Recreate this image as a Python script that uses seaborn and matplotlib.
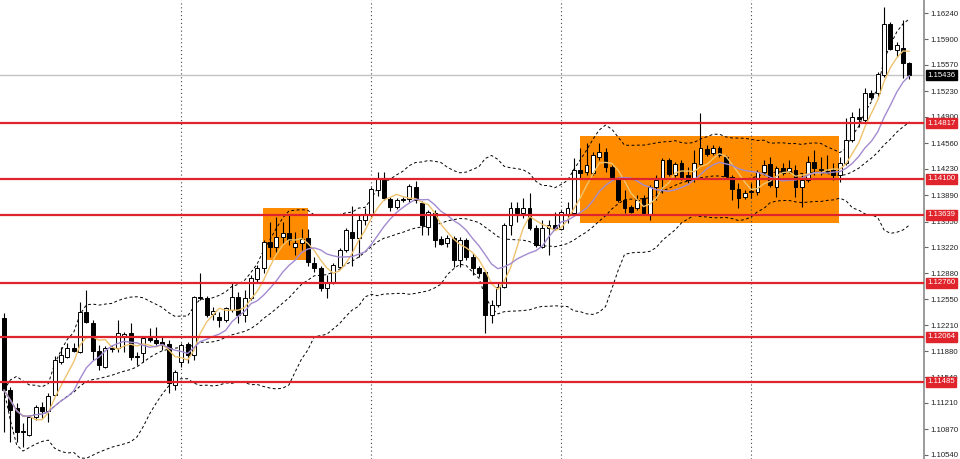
import numpy as np
import pandas as pd
import matplotlib
matplotlib.use("Agg")
import matplotlib.pyplot as plt
import matplotlib.transforms as mtransforms
import seaborn as sns

# ---------- PRICE DATA ----------
opens = [1.12306, 1.11377, 1.11145, 1.10848, 1.10797, 1.11029, 1.11158, 1.11106, 1.11313, 1.11738,
         1.11803, 1.11919, 1.11867, 1.12383, 1.12241, 1.11880, 1.11674, 1.11919, 1.11919, 1.12074,
         1.12112, 1.11816, 1.11854, 1.12048, 1.12022, 1.11996, 1.11970, 1.11442, 1.11738, 1.11970,
         1.11829, 1.12577, 1.12564, 1.12357, 1.12319, 1.12280, 1.12409, 1.12577, 1.12345, 1.12564,
         1.12809, 1.12951, 1.13286, 1.13222, 1.13351, 1.13402, 1.13222, 1.13273, 1.13338, 1.13015,
         1.12951, 1.12693, 1.12770, 1.12964, 1.13183, 1.13415, 1.13338, 1.13570, 1.13635, 1.13957,
         1.14086, 1.13841, 1.13738, 1.13841, 1.13841, 1.13996, 1.13789, 1.13480, 1.13660, 1.13325,
         1.13273, 1.13338, 1.13054, 1.13312, 1.13093, 1.12951, 1.12899, 1.12345, 1.12474, 1.12706,
         1.13506, 1.13725, 1.13660, 1.13725, 1.13467, 1.13222, 1.13467, 1.13506, 1.13454, 1.13635,
         1.13660, 1.14215, 1.14189, 1.14176, 1.14383, 1.14447, 1.14254, 1.14112, 1.13828, 1.13738,
         1.13725, 1.13854, 1.13635, 1.13996, 1.14112, 1.14344, 1.14151, 1.14305, 1.14151, 1.14112,
         1.14292, 1.14486, 1.14434, 1.14499, 1.14383, 1.14125, 1.13970, 1.13867, 1.13931, 1.13931,
         1.14189, 1.14292, 1.13996, 1.14241, 1.14202, 1.14215, 1.13996, 1.14086, 1.14318, 1.14215,
         1.14189, 1.14215, 1.14151, 1.14305, 1.14602, 1.14899, 1.14860, 1.15208, 1.15208, 1.15441,
         1.16098, 1.15763, 1.15789, 1.15595]
highs = [1.12370, 1.11416, 1.11209, 1.10951, 1.11055, 1.11184, 1.11222, 1.11338, 1.11816, 1.11932,
         1.11983, 1.11983, 1.12512, 1.12667, 1.12280, 1.11958, 1.11945, 1.11958, 1.12280, 1.12125,
         1.12241, 1.11867, 1.12061, 1.12177, 1.12190, 1.12061, 1.12022, 1.11635, 1.11983, 1.11996,
         1.12590, 1.12886, 1.12590, 1.12448, 1.12383, 1.12448, 1.12770, 1.12641, 1.12667, 1.12861,
         1.12990, 1.13312, 1.13544, 1.13609, 1.13544, 1.13635, 1.13415, 1.13454, 1.13454, 1.13093,
         1.12977, 1.12861, 1.13015, 1.13209, 1.13467, 1.13751, 1.13635, 1.13725, 1.13996, 1.14189,
         1.14189, 1.13867, 1.13854, 1.13867, 1.14034, 1.14073, 1.13815, 1.13699, 1.13699, 1.13364,
         1.13376, 1.13364, 1.13351, 1.13338, 1.13144, 1.12977, 1.12925, 1.12538, 1.12770, 1.13531,
         1.13802, 1.13802, 1.13854, 1.13918, 1.13506, 1.13570, 1.13570, 1.13673, 1.13699, 1.13802,
         1.14370, 1.14499, 1.14563, 1.14447, 1.14563, 1.14499, 1.14280, 1.14125, 1.13957, 1.13764,
         1.13893, 1.13893, 1.14022, 1.14151, 1.14370, 1.14370, 1.14318, 1.14344, 1.14254, 1.14473,
         1.14950, 1.14538, 1.14538, 1.14525, 1.14409, 1.14151, 1.14047, 1.13957, 1.14047, 1.14215,
         1.14344, 1.14383, 1.14267, 1.14305, 1.14344, 1.14280, 1.14176, 1.14396, 1.14473, 1.14383,
         1.14409, 1.14305, 1.14383, 1.14886, 1.14963, 1.15015, 1.15273, 1.15247, 1.15479, 1.16318,
         1.16124, 1.15866, 1.16150, 1.15608]
lows = [1.10835, 1.10706, 1.10706, 1.10642, 1.10784, 1.10990, 1.11016, 1.10964, 1.11300, 1.11712,
        1.11790, 1.11867, 1.11854, 1.12241, 1.11764, 1.11635, 1.11661, 1.11867, 1.11867, 1.11867,
        1.11764, 1.11700, 1.11738, 1.11996, 1.11958, 1.11893, 1.11338, 1.11377, 1.11674, 1.11725,
        1.11764, 1.12538, 1.12319, 1.12280, 1.12190, 1.12254, 1.12383, 1.12241, 1.12254, 1.12538,
        1.12770, 1.12886, 1.13093, 1.13157, 1.13273, 1.13248, 1.13119, 1.13183, 1.12977, 1.12899,
        1.12654, 1.12564, 1.12744, 1.12951, 1.13157, 1.12977, 1.13093, 1.13506, 1.13596, 1.13880,
        1.13828, 1.13686, 1.13712, 1.13802, 1.13802, 1.13789, 1.13376, 1.13376, 1.13222, 1.13248,
        1.13222, 1.12964, 1.12964, 1.13054, 1.12861, 1.12835, 1.12112, 1.12241, 1.12448, 1.12693,
        1.13376, 1.13544, 1.13596, 1.13441, 1.13222, 1.13209, 1.13119, 1.13441, 1.13441, 1.13531,
        1.13635, 1.14112, 1.14151, 1.14151, 1.14344, 1.14189, 1.14086, 1.13802, 1.13660, 1.13660,
        1.13699, 1.13635, 1.13570, 1.13828, 1.13918, 1.14138, 1.14125, 1.14086, 1.14047, 1.14060,
        1.14280, 1.14396, 1.14409, 1.14383, 1.14125, 1.13828, 1.13725, 1.13841, 1.13854, 1.13893,
        1.14151, 1.13996, 1.13867, 1.14151, 1.14176, 1.13867, 1.13738, 1.14060, 1.14151, 1.14151,
        1.14176, 1.14086, 1.14060, 1.14280, 1.14576, 1.14770, 1.14834, 1.15118, 1.15157, 1.15415,
        1.15763, 1.15673, 1.15402, 1.15389]
closes = [1.11377, 1.11119, 1.10835, 1.10835, 1.11029, 1.11158, 1.11106, 1.11300, 1.11764, 1.11829,
          1.11919, 1.11880, 1.12383, 1.12254, 1.11880, 1.11700, 1.11919, 1.11906, 1.12112, 1.12099,
          1.11803, 1.11803, 1.12048, 1.12022, 1.11983, 1.11958, 1.11467, 1.11609, 1.11958, 1.11829,
          1.12577, 1.12564, 1.12345, 1.12396, 1.12280, 1.12435, 1.12577, 1.12345, 1.12564, 1.12822,
          1.12951, 1.13286, 1.13222, 1.13351, 1.13402, 1.13312, 1.13273, 1.13325, 1.13028, 1.12951,
          1.12693, 1.12757, 1.12990, 1.13183, 1.13441, 1.13338, 1.13570, 1.13635, 1.13970, 1.14112,
          1.13854, 1.13738, 1.13828, 1.13828, 1.14009, 1.13828, 1.13506, 1.13673, 1.13312, 1.13260,
          1.13338, 1.13054, 1.13312, 1.13093, 1.12951, 1.12886, 1.12345, 1.12474, 1.12706, 1.13506,
          1.13725, 1.13660, 1.13725, 1.13467, 1.13248, 1.13467, 1.13506, 1.13467, 1.13673, 1.13725,
          1.14215, 1.14176, 1.14280, 1.14409, 1.14447, 1.14254, 1.14112, 1.13828, 1.13725, 1.13673,
          1.13828, 1.13660, 1.13996, 1.14086, 1.14344, 1.14163, 1.14292, 1.14125, 1.14086, 1.14305,
          1.14499, 1.14421, 1.14499, 1.14409, 1.14138, 1.13970, 1.13854, 1.13918, 1.13944, 1.14189,
          1.14280, 1.14022, 1.14241, 1.14176, 1.14241, 1.13996, 1.14086, 1.14318, 1.14241, 1.14228,
          1.14202, 1.14151, 1.14305, 1.14602, 1.14899, 1.14873, 1.15208, 1.15157, 1.15453, 1.16098,
          1.15776, 1.15828, 1.15595, 1.15436]

# horizontal support / resistance levels
levels = [1.14817, 1.14100, 1.13639, 1.12760, 1.12064, 1.11485]
last_price = 1.15436

# price axis ticks
tick_values = [1.16240, 1.15900, 1.15570, 1.15230, 1.14900, 1.14560, 1.14230, 1.13890, 1.13550,
               1.13220, 1.12880, 1.12550, 1.12210, 1.11880, 1.11540, 1.11210, 1.10870, 1.10540]

# orange consolidation zones (candle index from/to, price top/bottom)
zone_from = [40.9, 90.9]
zone_to = [48.0, 131.9]
zone_top = [1.13725, 1.14654]
zone_bottom = [1.13054, 1.13531]

# ---------- INDICATORS ----------
df = pd.DataFrame({"open": opens, "high": highs, "low": lows, "close": closes})
df["idx"] = np.arange(len(df))
df["ma5"] = df["close"].rolling(5, min_periods=1).mean()
df["ma10"] = df["close"].rolling(10, min_periods=1).mean()
df["mid"] = df["close"].rolling(20, min_periods=1).mean()
std = df["close"].rolling(20, min_periods=1).std(ddof=0)
df["upper"] = df["mid"] + 2 * std
df["lower"] = df["mid"] - 2 * std

# ---------- PLOT ----------
sns.set_style("white")
plt.rcParams["font.family"] = ["Liberation Sans", "DejaVu Sans"]

fig = plt.figure(figsize=(9.6, 4.59), dpi=100)
ax = fig.add_axes([0, 0, 924 / 960, 1])

RED = "#e0242c"
FS = 5.6

for x0, x1, top, bot in zip(zone_from, zone_to, zone_top, zone_bottom):
    ax.add_patch(plt.Rectangle((x0, bot), x1 - x0, top - bot,
                               facecolor="#ff8c00", edgecolor="none", zorder=1))

# period separators
for gx in range(28, len(df), 30):
    ax.axvline(gx, color="#444444", linestyle=(0, (1, 2.5)), linewidth=0.8, zorder=1.5)

# bollinger bands
for col in ["upper", "mid", "lower"]:
    sns.lineplot(data=df, x="idx", y=col, ax=ax, color="black", linewidth=0.7,
                 linestyle=(0, (3, 2.5)), zorder=2)

# candles
up = df["close"] >= df["open"]
ax.vlines(df["idx"], df["low"], df["high"], color="black", linewidth=0.8, zorder=3)
body_bottom = np.minimum(df["open"], df["close"])
body_height = (df["close"] - df["open"]).abs()
ax.bar(df["idx"][up], body_height[up], bottom=body_bottom[up], width=0.62,
       color="white", edgecolor="black", linewidth=0.7, zorder=4)
ax.bar(df["idx"][~up], body_height[~up], bottom=body_bottom[~up], width=0.62,
       color="black", edgecolor="black", linewidth=0.7, zorder=4)

# moving averages
sns.lineplot(data=df, x="idx", y="ma5", ax=ax, color="#efc36e", linewidth=1.0, zorder=5)
sns.lineplot(data=df, x="idx", y="ma10", ax=ax, color="#a38bd0", linewidth=1.0, zorder=5)

# levels
ax.axhline(last_price, color="#c4c4c4", linewidth=1.0, zorder=2.5)
for lv in levels:
    ax.axhline(lv, color=RED, linewidth=1.6, zorder=6)

ax.set_xlim(-0.63, 145.3)
ax.set_ylim(1.10487, 1.16408)
ax.set_xlabel("")
ax.set_ylabel("")
ax.set_xticks([])

ax.yaxis.tick_right()
ax.set_yticks(tick_values)
ax.set_yticklabels([f"{v:.5f}" for v in tick_values])
ax.tick_params(axis="y", direction="out", length=3, width=0.8, color="#666666",
               labelsize=FS, labelcolor="#222222", pad=1.5)

for side in ["top", "left", "bottom"]:
    ax.spines[side].set_visible(False)
ax.spines["right"].set_color("#8a8a8a")
ax.spines["right"].set_linewidth(1.2)

trans = mtransforms.blended_transform_factory(ax.transAxes, ax.transData)
for lv in levels:
    ax.text(1.0035, lv, f"{lv:.5f}", transform=trans, ha="left", va="center",
            fontsize=FS, color="white", zorder=20, clip_on=False,
            bbox=dict(boxstyle="square,pad=0.2", facecolor=RED, edgecolor=RED))
ax.text(1.0035, last_price, f"{last_price:.5f}", transform=trans, ha="left", va="center",
        fontsize=FS, color="white", zorder=20, clip_on=False,
        bbox=dict(boxstyle="square,pad=0.2", facecolor="black", edgecolor="black"))

fig.savefig("out.png", dpi=100)
